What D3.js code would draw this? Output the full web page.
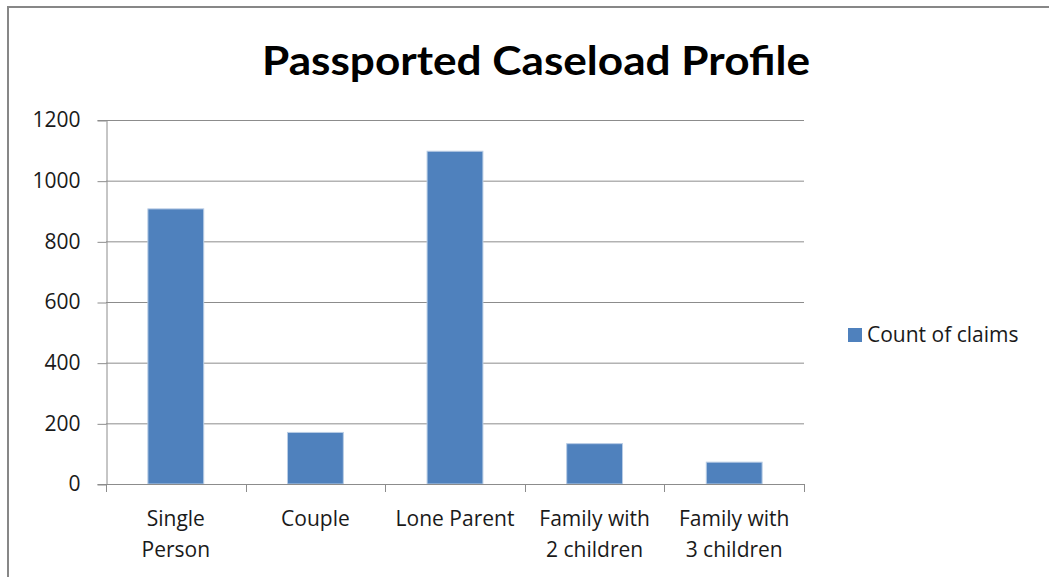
<!DOCTYPE html>
<html>
<head>
<meta charset="utf-8">
<script src="https://cdn.jsdelivr.net/npm/d3@7"></script>
<style>
  html, body { margin: 0; padding: 0; background: #fff; }
  svg { display: block; font-family: "Open Sans", Lato, sans-serif; }
</style>
</head>
<body>
<svg id="chart" width="1049" height="577"></svg>
<script>
// Household types and claim counts
const categories = [["Single", "Person"], ["Couple"], ["Lone Parent"], ["Family with", "2 children"], ["Family with", "3 children"]];
const claimCounts = [907, 170, 1097, 133, 72];
const yTicks = [0, 200, 400, 600, 800, 1000, 1200];
const seriesName = "Count of claims";
const chartTitle = "Passported Caseload Profile";

const svg = d3.select("#chart");
const W = 1049, H = 577;
const plot = { left: 106, right: 804, top: 120, bottom: 484 };
const barColor = "#4F81BD";
const gridColor = "#8c8c8c";
const textColor = "#1a1a1a";

// outer chart frame
svg.append("rect")
  .attr("x", 8).attr("y", 7)
  .attr("width", W + 20).attr("height", H + 20)
  .attr("fill", "#fff").attr("stroke", "#878787").attr("stroke-width", 2);

// title
svg.append("text")
  .attr("x", 536).attr("y", 75)
  .attr("text-anchor", "middle")
  .attr("font-family", "Lato, 'Open Sans', sans-serif")
  .attr("font-size", 40).attr("font-weight", 700)
  .attr("textLength", 548).attr("lengthAdjust", "spacingAndGlyphs")
  .attr("fill", "#000")
  .text(chartTitle);

const x = d3.scaleBand()
  .domain(d3.range(categories.length))
  .range([plot.left, plot.right])
  .paddingInner(0.6).paddingOuter(0.3);

const xTickScale = d3.scaleLinear().domain([0, categories.length]).range([plot.left, plot.right]);

const y = d3.scaleLinear().domain([0, 1200]).range([plot.bottom, plot.top]);

// horizontal gridlines
svg.append("g")
  .selectAll("line")
  .data(yTicks.filter(t => t > 0))
  .join("line")
  .attr("x1", plot.left).attr("x2", plot.right)
  .attr("y1", d => y(d) + 0.5).attr("y2", d => y(d) + 0.5)
  .attr("stroke", gridColor).attr("stroke-width", 1);

// y axis
const yAxis = svg.append("g")
  .attr("transform", `translate(${plot.left + 0.5},0)`)
  .call(d3.axisLeft(y).tickValues(yTicks).tickSize(9).tickPadding(17).tickFormat(d3.format("d")));
yAxis.select(".domain").attr("stroke", gridColor);
yAxis.selectAll(".tick line").attr("stroke", gridColor).attr("transform", "translate(0,0.5)");
yAxis.selectAll(".tick text")
  .attr("font-size", 21).attr("fill", textColor)
  .attr("font-family", "'Open Sans', Lato, sans-serif");

// bars
svg.append("g")
  .selectAll("rect")
  .data(claimCounts)
  .join("rect")
  .attr("x", (d, i) => x(i))
  .attr("width", x.bandwidth())
  .attr("y", d => y(d))
  .attr("height", d => y(0) - y(d))
  .attr("fill", barColor)
  .attr("stroke", "#b9cde5").attr("stroke-width", 1);

// x axis baseline and ticks
const xg = svg.append("g");
xg.append("line")
  .attr("x1", plot.left).attr("x2", plot.right)
  .attr("y1", y(0) + 0.5).attr("y2", y(0) + 0.5)
  .attr("stroke", gridColor);
xg.selectAll("line.tick")
  .data(d3.range(categories.length + 1))
  .join("line")
  .attr("class", "tick")
  .attr("x1", d => Math.round(xTickScale(d)) + 0.5).attr("x2", d => Math.round(xTickScale(d)) + 0.5)
  .attr("y1", y(0)).attr("y2", y(0) + 8)
  .attr("stroke", gridColor);

// category labels
const labels = svg.append("g").selectAll("text")
  .data(categories)
  .join("text")
  .attr("text-anchor", "middle")
  .attr("font-size", 21).attr("fill", textColor)
  .attr("x", (d, i) => x(i) + x.bandwidth() / 2)
  .attr("y", 526);
labels.selectAll("tspan")
  .data(d => d)
  .join("tspan")
  .attr("x", function () { return this.parentNode.getAttribute("x"); })
  .attr("dy", (d, i) => i === 0 ? 0 : 31)
  .text(d => d);

// legend
const legend = svg.append("g");
legend.append("rect")
  .attr("x", 848).attr("y", 328)
  .attr("width", 14).attr("height", 14)
  .attr("fill", barColor);
legend.append("text")
  .attr("x", 867).attr("y", 342)
  .attr("font-size", 21).attr("fill", textColor)
  .text(seriesName);
</script>
</body>
</html>
